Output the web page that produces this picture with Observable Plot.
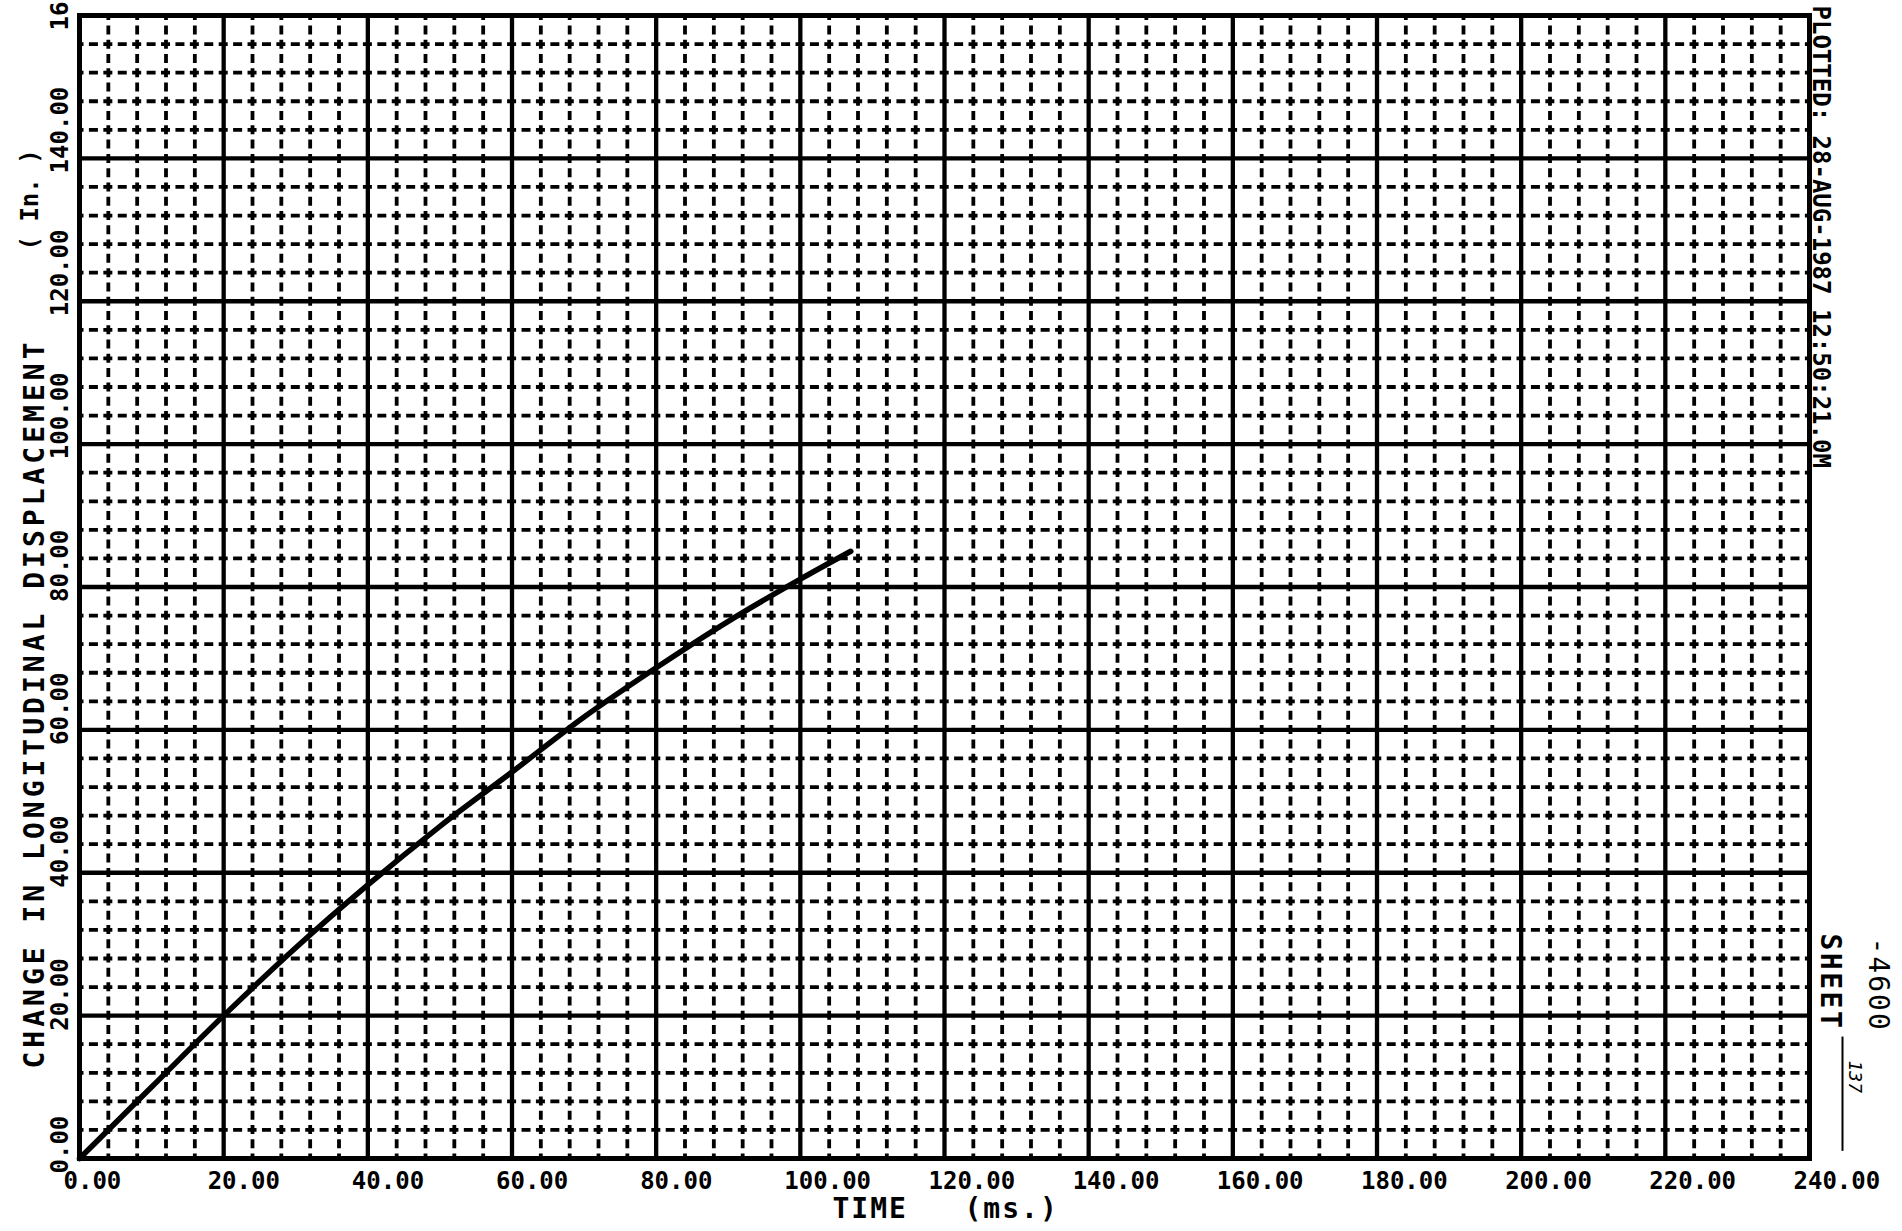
<!DOCTYPE html>
<html><head><meta charset="utf-8">
<script src="https://cdn.jsdelivr.net/npm/d3@7"></script>
<script src="https://cdn.jsdelivr.net/npm/@observablehq/plot@0.6"></script>
<style>html,body{margin:0;padding:0;background:#fff;overflow:hidden}#chart svg{display:block}</style>
</head><body><div id="chart"></div>
<script>
// Data
const timeMs       = [0, 10, 20, 30,   40,   50,   60,   70,   80,   90,   100,  107];
const displacement = [0, 10, 20, 29.5, 38.3, 46.5, 54.1, 61.8, 68.7, 75.2, 81.1, 85.0];

const xTicks = [0, 20, 40, 60, 80, 100, 120, 140, 160, 180, 200, 220, 240];
const xTickLabels = ["0.00","20.00","40.00","60.00","80.00","100.00","120.00","140.00","160.00","180.00","200.00","220.00","240.00"];
const yTicks = [0, 20, 40, 60, 80, 100, 120, 140, 160];
const yTickLabels = ["0.00","20.00","40.00","60.00","80.00","100.00","120.00","140.00","160.00"];
const xMinor = d3.range(0, 241, 4).filter(v => v % 20 !== 0);
const yMinor = d3.range(0, 161, 4).filter(v => v % 20 !== 0);

const xTitle = "TIME   (ms.)";
const yTitle = "CHANGE IN LONGITUDINAL DISPLACEMENT";
const yUnit = "( In. )";
const stamp = "PLOTTED: 28-AUG-1987 12:50:21.0M";
const sheetLabel = "SHEET";
const sheetNumber = "137";
const jobNumber = "-4600";

const data = timeMs.map((t, i) => ({t, d: displacement[i]}));
const mono = "DejaVu Sans Mono";

const chart = Plot.plot({
  width: 1902,
  height: 1231,
  marginLeft: 79,
  marginRight: 93,
  marginTop: 15,
  marginBottom: 73,
  style: {background: "#fff", color: "#000", overflow: "hidden"},
  x: {domain: [0, 240], axis: null},
  y: {domain: [0, 160], axis: null},
  marks: [
    // minor dashed grid
    Plot.ruleX(xMinor, {x: d => d, y1: 0, y2: 160, stroke: "#000", strokeWidth: 3.8, strokeDasharray: "9,5.28", strokeDashoffset: 4.5}),
    Plot.ruleY(yMinor, {y: d => d, x1: 0, x2: 240, stroke: "#000", strokeWidth: 3.8, strokeDasharray: "9,5.42", strokeDashoffset: 4.5}),
    // major grid
    Plot.ruleX(xTicks, {x: d => d, y1: 0, y2: 160, stroke: "#000", strokeWidth: 4.3}),
    Plot.ruleY(yTicks, {y: d => d, x1: 0, x2: 240, stroke: "#000", strokeWidth: 4.3}),
    Plot.frame({stroke: "#000", strokeWidth: 5}),
    // data curve
    Plot.line(data, {x: "t", y: "d", stroke: "#000", strokeWidth: 5.5, curve: "monotone-x"}),
    // x tick labels
    Plot.text(xTicks, {x: d => d, text: (d, i) => xTickLabels[i], frameAnchor: "bottom", dy: 23, dx: -16,
      textAnchor: "start", lineAnchor: "middle", fontFamily: mono, fontWeight: "bold", fontSize: 24, fill: "#000"}),
    // y tick labels (rotated)
    Plot.text(yTicks, {y: d => d, text: (d, i) => yTickLabels[i], frameAnchor: "left", dx: -19, dy: 15, rotate: -90,
      textAnchor: "start", lineAnchor: "middle", fontFamily: mono, fontWeight: "bold", fontSize: 24, fill: "#000"}),
    // axis titles
    Plot.text([xTitle], {frameAnchor: "bottom-left", dx: 753, dy: 51, textAnchor: "start", lineAnchor: "middle",
      fontFamily: mono, fontWeight: "bold", fontSize: 28, fill: "#000"}),
    Plot.text([yTitle], {frameAnchor: "bottom-left", dx: -44, dy: -90, rotate: -90, textAnchor: "start", lineAnchor: "middle",
      fontFamily: mono, fontWeight: "bold", fontSize: 28, fill: "#000"}),
    Plot.text([yUnit], {frameAnchor: "top-left", dx: -49, dy: 235, rotate: -90, textAnchor: "start", lineAnchor: "middle",
      fontFamily: mono, fontWeight: "bold", fontSize: 24, fill: "#000"}),
    // right-side annotations
    Plot.text([stamp], {frameAnchor: "top-right", dx: 11, dy: -10, rotate: 90, textAnchor: "start", lineAnchor: "middle",
      fontFamily: mono, fontWeight: "bold", fontSize: 24, fill: "#000"}),
    Plot.text([sheetLabel], {frameAnchor: "bottom-right", dx: 20, dy: -225, rotate: 90, textAnchor: "start", lineAnchor: "middle",
      fontFamily: mono, fontWeight: "bold", fontSize: 28, fill: "#000"}),
    Plot.text([jobNumber], {frameAnchor: "bottom-right", dx: 68, dy: -221, rotate: 90, textAnchor: "start", lineAnchor: "middle",
      fontFamily: mono, fontSize: 28, fill: "#000"}),
    Plot.text([sheetNumber], {frameAnchor: "bottom-right", dx: 45, dy: -98, rotate: 90, textAnchor: "start", lineAnchor: "middle",
      fontFamily: mono, fontStyle: "italic", fontSize: 18, fill: "#000"}),
    Plot.ruleX([240], {x: d => d, y1: 1, y2: 17, dx: 33, stroke: "#000", strokeWidth: 2})
  ]
});

document.getElementById("chart").appendChild(chart);

// letter spacing tweaks for plotter-style lettering
const spacing = new Map([[yTitle, 4], [xTitle, 2], [sheetLabel, 2.5], [jobNumber, 2]]);
d3.select(chart).selectAll("text").each(function() {
  const s = spacing.get(this.textContent);
  if (s != null) this.setAttribute("letter-spacing", s);
});
</script>
</body></html>
